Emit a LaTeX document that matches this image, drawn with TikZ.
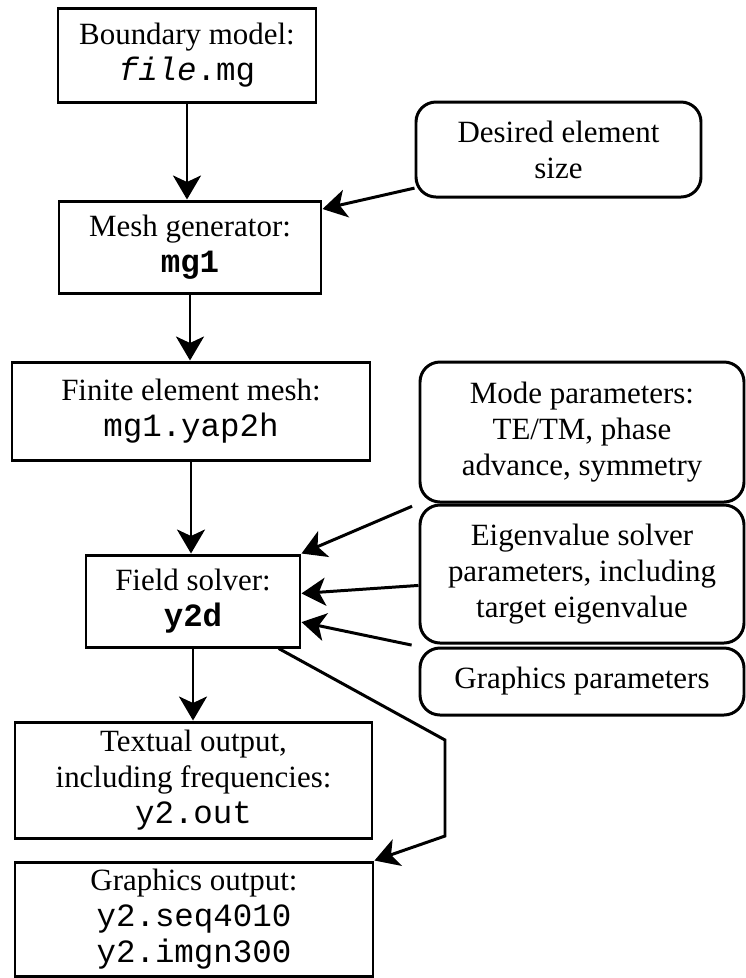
\documentclass[tikz,border=0pt]{standalone}
\usepackage{fontspec}
\setmainfont{Liberation Serif}
\setmonofont[Scale=1.05]{Liberation Mono}
\usetikzlibrary{arrows.meta, calc}
\tikzset{
  every picture/.style={font=\fontsize{17.6}{20.5}\selectfont, line width=1.7pt},
  prog/.style={draw, align=center, inner sep=0pt},
  param/.style={draw, rounded corners=0.4cm, align=center, inner sep=0pt},
  flow/.style={-{Stealth[length=0.48cm, width=0.56cm, inset=0.13cm]}, line width=1.7pt},
}

\begin{document}
\begin{tikzpicture}[x=1cm, y=1cm]
  \useasboundingbox (0,0) rectangle (14.92,-19.56);
  % programs and files down the left
  \node[prog, minimum width=5.16cm, minimum height=1.88cm] (bnd) at (3.74,-1.10) {Boundary model:\\ \texttt{\textit{file}.mg}};
  \node[prog, minimum width=5.24cm, minimum height=1.84cm] (mesh) at (3.80,-4.94) {Mesh generator:\\ \texttt{\textbf{mg1}}};
  \node[prog, minimum width=7.16cm, minimum height=1.96cm] (fem) at (3.82,-8.22) {Finite element mesh:\\ \texttt{mg1.yap2h}};
  \node[prog, minimum width=4.28cm, minimum height=1.84cm] (solver) at (3.86,-12.02) {Field solver:\\ \texttt{\textbf{y2d}}};
  \node[prog, minimum width=7.14cm, minimum height=2.32cm] (txt) at (3.87,-15.60) {Textual output,\\ including frequencies:\\ \texttt{y2.out}};
  \node[prog, minimum width=7.16cm, minimum height=2.28cm] (gout) at (3.88,-18.38) {Graphics output:\\ \texttt{y2.seq4010}\\ \texttt{y2.imgn300}};
  % user input on the right
  \node[param, minimum width=5.70cm, minimum height=1.90cm] (size) at (11.17,-2.99) {Desired element\\ size};
  \node[param, minimum width=6.48cm, minimum height=2.80cm] (mode) at (11.64,-8.64) {Mode parameters:\\ TE/TM, phase\\ advance, symmetry};
  \node[param, minimum width=6.48cm, minimum height=2.76cm] (eig) at (11.64,-11.48) {Eigenvalue solver\\ parameters, including\\ target eigenvalue};
  \node[param, minimum width=6.48cm, minimum height=1.34cm] (gpar) at (11.64,-13.63) {Graphics parameters};

  \draw[flow] (bnd.south) -- (bnd.south |- mesh.north);
  \draw[flow] (mesh.south) -- (mesh.south |- fem.north);
  \draw[flow] (fem.south) -- (fem.south |- solver.north);
  \draw[flow] (solver.south) -- (solver.south |- txt.north);
  \draw[flow] (size.195) -- (mesh.16);
  \draw[flow, shorten <=4pt] (mode.south west) -- (solver.north east);
  \draw[flow] (eig.184) -- (solver.4);
  \draw[flow, shorten <=4pt] (gpar.north west) -- (solver.-11);
  % graphics output goes round the textual box
  \coordinate (bend1) at (8.90,-14.80);
  \coordinate (bend2) at (8.90,-16.72);
  \draw[flow] (solver.-29) -- (bend1) -- (bend2) -- (gout.north east);
\end{tikzpicture}
\end{document}
